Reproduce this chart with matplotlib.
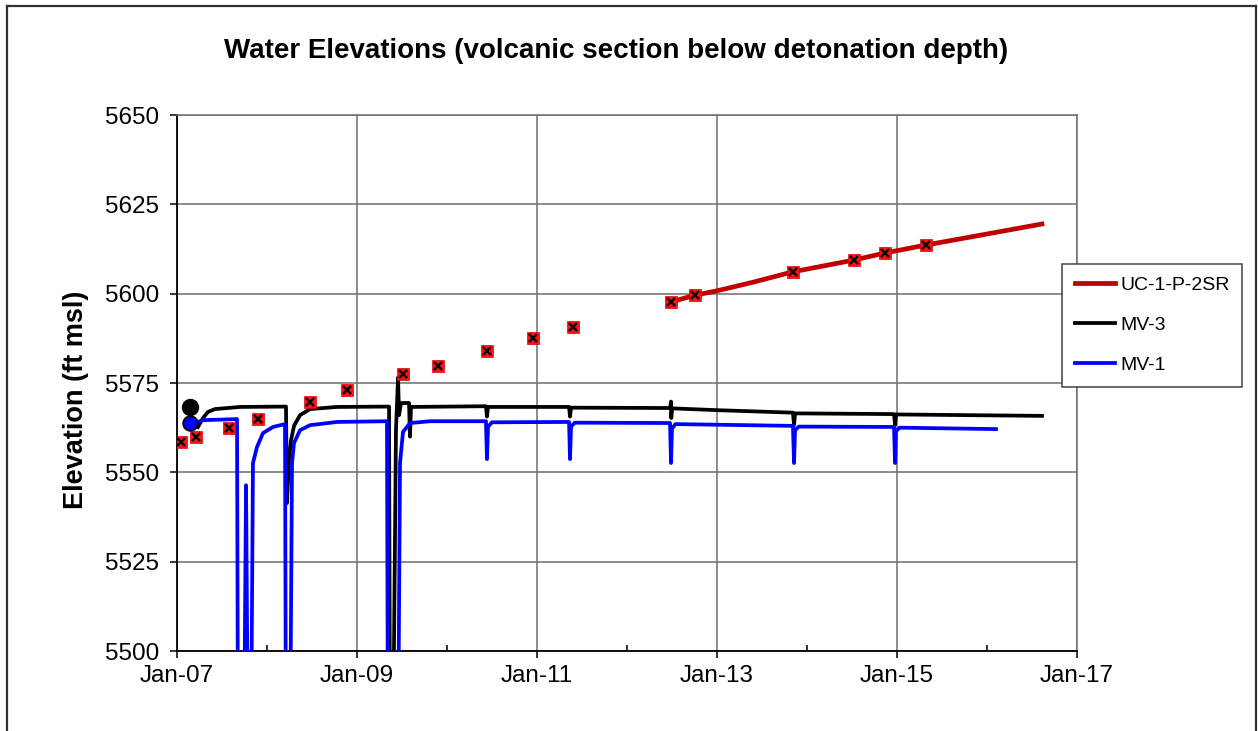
import matplotlib
matplotlib.use("Agg")
import matplotlib.pyplot as plt
from matplotlib.lines import Line2D
from matplotlib.ticker import FixedLocator, MultipleLocator, FuncFormatter

plt.rcParams["font.family"] = ["Liberation Sans", "DejaVu Sans"]

# decimal years / elevation (ft msl)

# UC-1-P-2SR manual water levels (red squares)
uc_manual_t = [2007.04, 2007.21, 2007.58, 2007.90, 2008.48, 2008.89, 2009.51,
               2009.90, 2010.44, 2010.96, 2011.40, 2012.49, 2012.76, 2013.84,
               2014.52, 2014.87, 2015.32]
uc_manual_elev = [5558.5, 5559.9, 5562.4, 5564.9, 5569.7, 5573.0, 5577.5,
                  5579.8, 5584.0, 5587.6, 5590.7, 5597.7, 5599.6, 5606.1,
                  5609.4, 5611.4, 5613.6]

# UC-1-P-2SR transducer record
uc_t = [2012.49, 2012.76, 2013.00, 2013.40, 2013.84, 2014.52, 2014.87,
        2015.32, 2016.00, 2016.61]
uc_elev = [5597.7, 5599.6, 5600.8, 5603.2, 5606.1, 5609.4, 5611.4,
           5613.6, 5616.7, 5619.5]

# MV-3 transducer record (values below 5500 are off-scale drawdowns)
mv3_t = [2007.233, 2007.289, 2007.344, 2007.422, 2007.70, 2008.211, 2008.222,
         2008.244, 2008.267, 2008.30, 2008.367, 2008.478, 2008.778, 2009.356,
         2009.367, 2009.40, 2009.433, 2009.456, 2009.467, 2009.489, 2009.578,
         2009.589, 2009.60, 2010.433, 2010.444, 2010.456, 2011.356, 2011.367,
         2011.378, 2012.478, 2012.489, 2012.492, 2012.50, 2013.0, 2013.844,
         2013.856, 2013.867, 2014.967, 2014.978, 2014.989, 2016.611]
mv3_elev = [5562.7, 5565.2, 5566.9, 5567.7, 5568.3, 5568.4, 5541.4,
            5553.4, 5559.0, 5563.0, 5566.0, 5567.7, 5568.3, 5568.4,
            5470.0, 5470.0, 5561.8, 5576.5, 5566.0, 5569.4, 5569.4,
            5560.0, 5568.3, 5568.5, 5565.6, 5568.3, 5568.3, 5565.6,
            5568.1, 5568.0, 5569.8, 5565.2, 5567.9, 5567.4, 5566.7,
            5563.2, 5566.5, 5566.3, 5563.3, 5566.2, 5565.8]

# MV-1 transducer record
mv1_t = [2007.233, 2007.289, 2007.667, 2007.678, 2007.744, 2007.767, 2007.789,
         2007.822, 2007.844, 2007.889, 2007.956, 2008.067, 2008.20, 2008.211,
         2008.256, 2008.278, 2008.30, 2008.367, 2008.478, 2008.778, 2009.333,
         2009.344, 2009.456, 2009.478, 2009.511, 2009.589, 2009.811, 2010.433,
         2010.444, 2010.456, 2010.50, 2011.356, 2011.367, 2011.378, 2011.42,
         2012.478, 2012.489, 2012.50, 2012.54, 2013.844, 2013.856, 2013.867,
         2013.91, 2014.967, 2014.978, 2014.989, 2015.03, 2016.10]
mv1_elev = [5564.1, 5564.6, 5564.9, 5470.0, 5470.0, 5546.4, 5470.0,
            5470.0, 5552.6, 5557.1, 5561.0, 5562.7, 5563.5, 5470.0,
            5470.0, 5552.6, 5558.2, 5561.8, 5563.2, 5564.1, 5564.3,
            5470.0, 5470.0, 5552.6, 5561.3, 5563.8, 5564.3, 5564.3,
            5553.7, 5562.8, 5564.0, 5564.1, 5553.7, 5562.8, 5563.9,
            5563.8, 5552.6, 5562.3, 5563.5, 5563.0, 5552.6, 5561.8,
            5562.8, 5562.7, 5552.6, 5561.5, 5562.5, 5562.1]

# initial hand measurements (circles)
mv3_start = (2007.144, 5568.2)
mv1_start = (2007.144, 5563.8)

legend_labels = ["UC-1-P-2SR", "MV-3", "MV-1"]
major_years = [2007, 2009, 2011, 2013, 2015, 2017]

fig = plt.figure(figsize=(12.58, 7.31), dpi=100)
ax = fig.add_axes([177 / 1258, 1 - 651 / 731, 900 / 1258, 536 / 731])

grid_c = "#6e6e6e"
ax.grid(True, which="major", color=grid_c, lw=1.1)
ax.set_axisbelow(True)

l_uc, = ax.plot(uc_t, uc_elev, color="#C00000", lw=3.4, zorder=3)
l_mv3, = ax.plot(mv3_t, mv3_elev, color="black", lw=2.7, zorder=3)
l_mv1, = ax.plot(mv1_t, mv1_elev, color="#0000FF", lw=2.7, zorder=4)

ax.plot(uc_manual_t, uc_manual_elev, ls="none", marker="s", ms=9,
        mfc="#FF1010", mec="#E00000", mew=0.5, zorder=6)
ax.plot(uc_manual_t, uc_manual_elev, ls="none", marker="x", ms=5.5,
        mec="black", mew=1.7, zorder=7)

ax.plot(*mv3_start, ls="none", marker="o", ms=11.5, mfc="black", mec="black", zorder=6)
ax.plot(*mv1_start, ls="none", marker="o", ms=10.5, mfc="#0000FF", mec="black",
        mew=1.3, zorder=6)

ax.set_xlim(2007, 2017)
ax.set_ylim(5500, 5650)
ax.xaxis.set_major_locator(FixedLocator(major_years))
ax.xaxis.set_minor_locator(MultipleLocator(1))
ax.xaxis.set_major_formatter(FuncFormatter(lambda v, p: "Jan-%02d" % (int(round(v)) % 100)))
ax.yaxis.set_major_locator(MultipleLocator(25))

ax.tick_params(axis="both", which="major", direction="out", length=5,
               width=1.1, color="black", labelsize=17.5, pad=8)
ax.tick_params(axis="x", which="minor", direction="in", length=4,
               width=1.1, color="black")
ax.tick_params(axis="x", which="major", pad=5)

for side in ("top", "right"):
    ax.spines[side].set_color(grid_c)
    ax.spines[side].set_linewidth(1.1)
for side in ("left", "bottom"):
    ax.spines[side].set_color("black")
    ax.spines[side].set_linewidth(1.3)

ax.set_ylabel("Elevation (ft msl)", fontsize=19.5, fontweight="bold")
ax.yaxis.set_label_coords(-0.098, 0.468)

fig.text(616 / 1258, 1 - 48 / 731,
         "Water Elevations (volcanic section below detonation depth)",
         ha="center", va="center_baseline", fontsize=20, fontweight="bold")

leg = fig.legend([l_uc, l_mv3, l_mv1], legend_labels, loc="upper left",
                 bbox_to_anchor=(1062 / 1258, 1 - 264 / 731), fontsize=14,
                 frameon=True, fancybox=False, framealpha=1, edgecolor="#404040",
                 handlelength=2.1, handletextpad=0.25, labelspacing=1.15,
                 borderpad=0.65, borderaxespad=0)
leg.get_frame().set_linewidth(1.1)

# thin border around the whole chart image
for xs, ys in [([7, 7], [0, 725]), ([7, 1256], [725, 725]), ([1256, 1256], [725, 0])]:
    fig.add_artist(Line2D([x / 1258 for x in xs], [y / 731 for y in ys],
                          color="#303030", lw=1.6))

fig.savefig("out.png", dpi=100)
